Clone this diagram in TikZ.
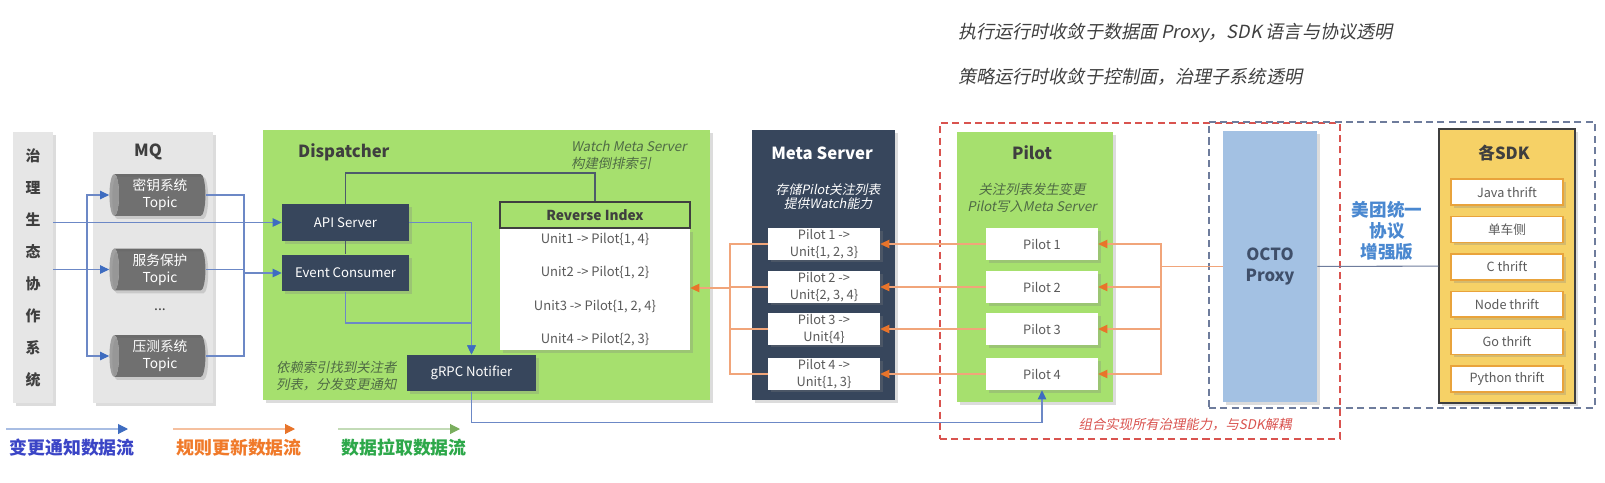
\documentclass[tikz,border=0pt]{standalone}
\usepackage{fontspec}
\setmainfont{Noto Sans CJK SC}[AutoFakeSlant=0.2]
\usetikzlibrary{arrows.meta,calc,positioning,shapes.geometric,shadows}
\definecolor{gvink}{HTML}{3F3F3F}
\definecolor{gvpaper}{HTML}{E6E6E6}
\definecolor{gvtopic}{HTML}{6B6B6B}
\definecolor{gvtopicend}{HTML}{A0A0A0}
\definecolor{gvgreen}{HTML}{A6E06E}
\definecolor{gvnavy}{HTML}{37465C}
\definecolor{gvsky}{HTML}{A3C1E3}
\definecolor{gvyellow}{HTML}{F6D166}
\definecolor{gvamber}{HTML}{E9A33B}
\definecolor{gvred}{HTML}{D9534F}
\definecolor{gvslate}{HTML}{6E7C9C}
\definecolor{gvslateink}{HTML}{3F4F6A}
\definecolor{gvblueline}{HTML}{6C88C6}
\definecolor{gvbluetip}{HTML}{3E6CC0}
\definecolor{gvorangeline}{HTML}{F1A57A}
\definecolor{gvorangetip}{HTML}{E8742A}
\definecolor{gvgreentip}{HTML}{7AAE5E}
\definecolor{gvnote}{HTML}{4F6B45}
\definecolor{gvcell}{HTML}{5A5A5A}
\definecolor{gvwire}{HTML}{4D5B6B}
\definecolor{gvproto}{HTML}{4A88D0}
\definecolor{gvkeyblue}{HTML}{3B45C6}
\definecolor{gvkeyorange}{HTML}{F07A2A}
\definecolor{gvkeygreen}{HTML}{2DA84A}
\newcommand\gvsize[2]{\fontsize{#1}{#2}\selectfont}
\tikzset{
  gv text/.style={font=\gvsize{7.5}{9}, text=gvink},
  gv shadow/.style={drop shadow={shadow xshift=1.6pt, shadow yshift=-1.6pt, opacity=0.28}},
  gv panel/.style={gv shadow, inner sep=0pt},
  gv title/.style={font=\gvsize{9.5}{11}\bfseries, text=gvink},
  gv box/.style={gv shadow, fill=gvnavy, text=white, minimum width=2.54cm,
    minimum height=0.73cm, font=\gvsize{7.5}{9}},
  gv topic/.style={cylinder, shape border rotate=180, aspect=0.3, cylinder uses custom fill,
    cylinder body fill=gvtopic, cylinder end fill=gvtopicend, gv shadow,
    minimum width=0.84cm, minimum height=1.92cm, align=center, inner sep=0pt,
    text=white, font=\gvsize{7.8}{9.7}},
  gv head/.style={draw=gvink, line width=0.8pt, fill=gvgreen, minimum width=3.8cm,
    minimum height=0.52cm, font=\gvsize{7.8}{9}\bfseries, text=gvink},
  gv sheet/.style={gv shadow, fill=white, minimum width=3.8cm, minimum height=2.42cm},
  gv unit/.style={font=\gvsize{7.4}{9}, text=gvcell},
  gv cell/.style={gv shadow, fill=white, minimum width=2.24cm, minimum height=0.62cm,
    inner sep=0.5pt, align=center, font=\gvsize{7.3}{9.6}, text=gvcell},
  gv lang/.style={gv shadow, fill=white, draw=gvamber, line width=0.8pt, minimum width=2.24cm,
    minimum height=0.52cm, font=\gvsize{7.2}{9}, text=gvcell},
  gv note/.style={align=center, font=\gvsize{7.6}{9.6}\itshape},
  gv top/.style={anchor=west, inner sep=0pt, font=\gvsize{10.3}{12}\itshape, text=gvink},
  gv fence/.style={line width=0.9pt, dash pattern=on 4pt off 2.5pt, inner sep=0pt},
  gv wire/.style={line width=0.6pt, draw=gvblueline},
  gv flow/.style={gv wire, -{Triangle[length=1.8mm,width=1.7mm,color=gvbluetip]}},
  gv rule wire/.style={line width=0.6pt, draw=gvorangeline},
  gv rule/.style={gv rule wire, -{Triangle[length=1.8mm,width=1.7mm,color=gvorangetip]}},
  gv key/.style={anchor=west, inner sep=0pt, font=\gvsize{10.2}{12}\bfseries}
}

\begin{document}
\begin{tikzpicture}[gv text, x=0.02cm, y=-0.02cm]
  \useasboundingbox (0,0) rectangle (1605,483);
  \node[gv top] (head1) at (958,33) {执行运行时收敛于数据面 Proxy，SDK 语言与协议透明};
  \node[gv top] (head2) at (958,77) {策略运行时收敛于控制面，治理子系统透明};

  \node[gv panel, fill=gvpaper, minimum width=0.8cm, minimum height=5.42cm, align=center,
    font=\gvsize{8.5}{18.2}\bfseries] (gov) at (33,267.5) {治\\理\\生\\态\\协\\作\\系\\统};
  \node[gv panel, fill=gvpaper, minimum width=2.4cm, minimum height=5.42cm] (mq) at (153,267.5) {};
  \node[gv title] (mqtitle) at (148,152) {MQ};
  \foreach \k/\y/\t in {1/195/密钥系统, 2/269.5/服务保护, 3/356/压测系统}
    \node[gv topic] (t\k) at (160,\y) {\t\\Topic};
  \node[gv title, font=\gvsize{8}{9}] (tdots) at (160,310) {...};

  \node[gv panel, fill=gvgreen, minimum width=8.94cm, minimum height=5.4cm, anchor=north west] (disp) at (263,130) {};
  \node[gv title, anchor=west] (disptitle) at (292,152) {Dispatcher};
  \node[gv note, align=left, anchor=west, text=gvnote] (watchnote) at (565,155) {Watch Meta Server\\构建倒排索引};
  \node[gv note, align=left, anchor=west, text=gvnote] (grpcnote) at (270,376) {依赖索引找到关注者\\列表，分发变更通知};
  \node[gv box] (api) at (345.5,222.5) {API Server};
  \node[gv box] (ec) at (345.5,273) {Event Consumer};
  \node[gv box, minimum width=2.58cm] (grpc) at (471.5,373) {gRPC Notifier};
  \node[gv head] (rihead) at (595,215) {Reverse Index};
  \node[gv sheet, anchor=north] (ribody) at (rihead.south) {};
  \foreach \k/\y/\p in {1/240/{1, 4}, 2/273/{1, 2}, 3/307/{1, 2, 4}, 4/340/{2, 3}}
    \node[gv unit] (unit\k) at (595,\y) {Unit\k\ -> Pilot\{\p\}};

  \node[gv panel, fill=gvnavy, minimum width=2.86cm, minimum height=5.4cm, anchor=north west] (meta) at (752,130) {};
  \node[gv title, text=white] (metatitle) at (822,153) {Meta Server};
  \node[gv note, text=white, font=\gvsize{7.3}{7.9}\itshape] (metanote) at (828,197) {存储Pilot关注列表\\提供Watch能力};
  \foreach \k/\y/\s in {1/244/{1, 2, 3}, 2/287/{2, 3, 4}, 3/329/{4}, 4/374/{1, 3}}
    \node[gv cell] (m\k) at (824,\y) {Pilot \k\ ->\\Unit\{\s\}};

  \node[gv fence, draw=gvred, minimum width=8cm, minimum height=6.32cm, anchor=north west] (ctrl) at (939,122) {};
  \node[gv fence, draw=gvslate, minimum width=7.72cm, minimum height=5.72cm, anchor=north west] (plane) at (1208,121) {};
  \node[gv note, text=gvred] (ctrlnote) at (1185,425) {组合实现所有治理能力，与SDK解耦};

  \node[gv panel, fill=gvgreen, minimum width=3.12cm, minimum height=5.4cm, anchor=north west] (pilot) at (957,132) {};
  \node[gv title] (pilottitle) at (1032,153) {Pilot};
  \node[gv note, text=gvnote] (pilotnote) at (1032,198) {关注列表发生变更\\Pilot写入Meta Server};
  \foreach \k/\y in {1/244, 2/287, 3/329, 4/374}
    \node[gv cell, minimum height=0.64cm] (p\k) at (1042,\y) {Pilot \k};

  \node[gv panel, fill=gvsky, minimum width=1.88cm, minimum height=5.42cm, align=center,
    font=\gvsize{9.5}{12}\bfseries, text=gvslateink] (octo) at (1270,266.5) {OCTO\\Proxy};
  \node[gv note, font=\gvsize{10}{12}\bfseries\itshape, text=gvproto] (proto) at (1387,231) {美团统一\\协议\\增强版};

  \node[gv panel, fill=gvyellow, draw=gvink, line width=0.8pt, minimum width=2.72cm, minimum height=5.48cm] (sdk) at (1507,266) {};
  \node[gv title] (sdktitle) at (1504,153) {各SDK};
  \foreach \t [count=\k] in {Java thrift, 单车侧, C thrift, Node thrift, Go thrift, Python thrift}
    \node[gv lang] (sdk\k) at (1507,{154.6+37.4*\k}) {\t};

  \coordinate (fan) at (87,269.5);
  \coordinate (mqjoin) at (244,273);
  \draw[gv flow] (api.west -| gov.east) -- (api);
  \draw[gv flow] (t2.west -| gov.east) -- (t2);
  \draw[gv flow] (fan) |- (t1);
  \draw[gv flow] (fan) |- (t3);
  \draw[gv wire] (t1) -| (mqjoin);
  \draw[gv wire] (t3) -| (mqjoin);
  \draw[gv flow] (t2) -| (mqjoin) -- (ec);

  \coordinate (watchtop) at (595,173);
  \coordinate (notjoin) at (471.5,323);
  \draw[gv wire, draw=gvwire] (api.north) |- (watchtop) -- (rihead.north);
  \draw[gv wire, draw=gvwire] (api) -- (ec);
  \draw[gv flow] (ec.south) |- (notjoin) -- (grpc.north);
  \draw[gv flow] (api.east) -| (grpc.north);
  \draw[gv flow] (grpc.south) -- ++(0,31) -| (p4.south);

  \coordinate (metafan) at (730,288);
  \foreach \k in {1,...,4}
    \draw[gv rule wire] (m\k.west) -| (metafan);
  \draw[gv rule] (metafan) -- (metafan -| ribody.east);
  \foreach \k in {1,...,4}
    \draw[gv rule] (p\k.west) -- (m\k.east);
  \coordinate (octofan) at (1161,266.5);
  \draw[gv rule wire] (octo) -- (octofan);
  \foreach \k in {1,...,4}
    \draw[gv rule] (octofan) |- (p\k.east);
  \draw[gv wire, draw=gvslate] (octo) -- (sdk);

  \foreach \n/\x/\c/\l/\t in {1/6/gvbluetip/gvkeyblue/变更通知数据流, 2/173/gvorangetip/gvkeyorange/规则更新数据流, 3/338/gvgreentip/gvkeygreen/数据拉取数据流} {
    \coordinate (key\n a) at (\x,429);
    \coordinate (key\n b) at (\x+122,429);
    \draw[line width=0.6pt, draw=\c!45, -{Triangle[length=2mm,width=2mm,color=\c]}] (key\n a) -- (key\n b);
    \node[gv key, text=\l] (key\n) at (\x+3,448) {\t};
  }
\end{tikzpicture}
\end{document}
